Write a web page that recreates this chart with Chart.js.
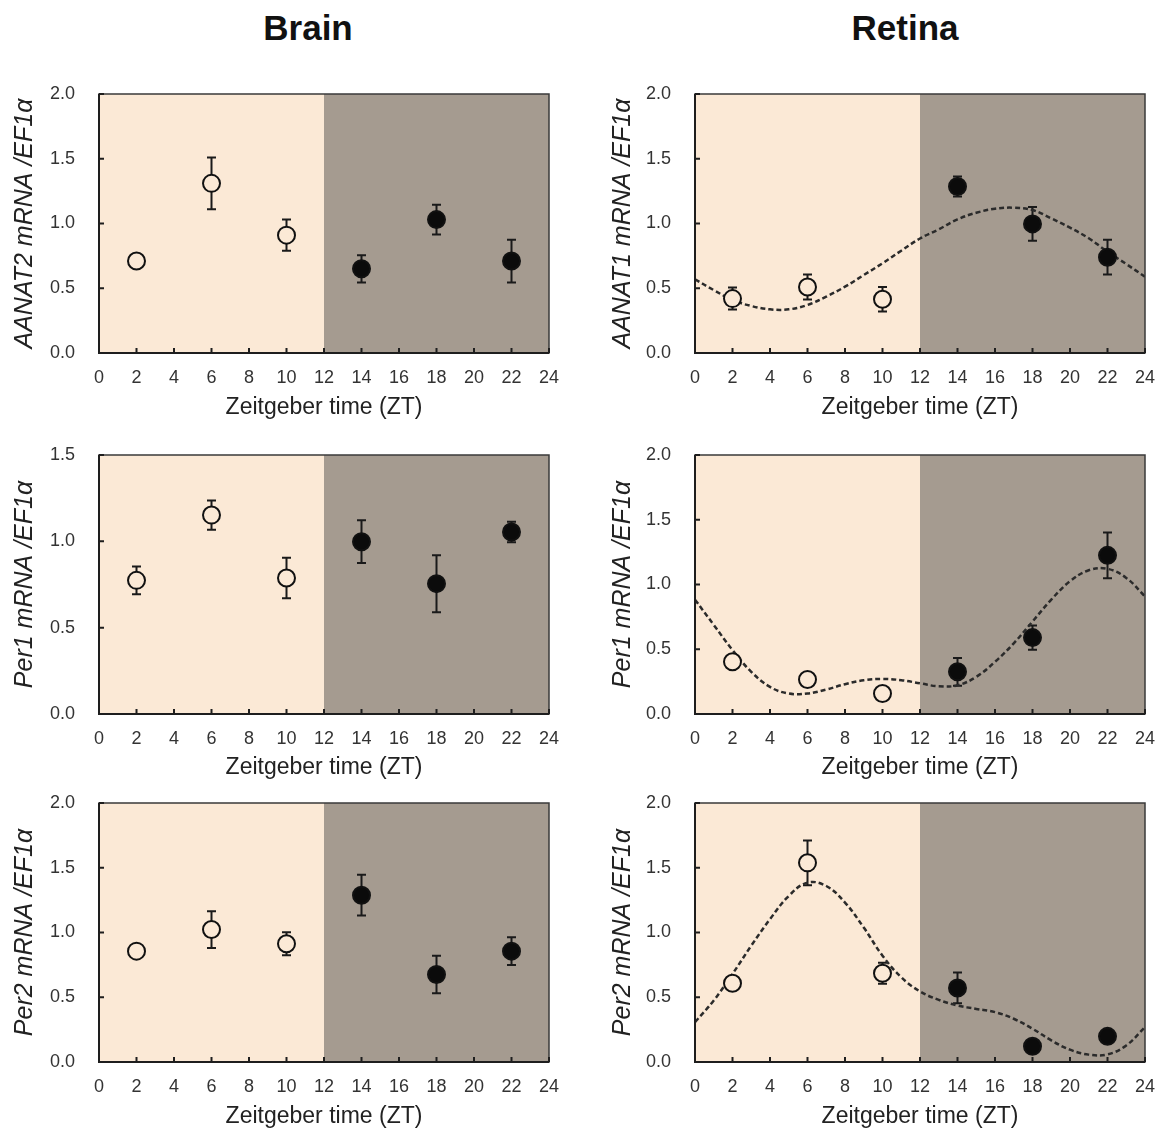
<!DOCTYPE html>
<html>
<head>
<meta charset="utf-8">
<script src="https://cdn.jsdelivr.net/npm/chart.js@4"></script>
<style>
  body { margin: 0; background: #fff; }
  #page { position: relative; width: 1163px; height: 1136px; overflow: hidden; }
  canvas { position: absolute; }
  .head { position: absolute; top: 8px; width: 300px; text-align: center;
          font: bold 35px 'Liberation Sans', Arial, sans-serif; color: #111; }
</style>
</head>
<body>
<div id="page">
  <div class="head" style="left:158px">Brain</div>
  <div class="head" style="left:755px">Retina</div>
  <canvas id="c1" width="575" height="345" style="left:0;top:80px"></canvas>
  <canvas id="c2" width="573" height="345" style="left:590px;top:80px"></canvas>
  <canvas id="c3" width="575" height="345" style="left:0;top:440px"></canvas>
  <canvas id="c4" width="573" height="345" style="left:590px;top:440px"></canvas>
  <canvas id="c5" width="575" height="350" style="left:0;top:786px"></canvas>
  <canvas id="c6" width="573" height="350" style="left:590px;top:786px"></canvas>
</div>
<script>
// sampling times (ZT)
const zt = [2, 6, 10, 14, 18, 22];
const nightStart = 12;

// brain
const brainAanat2 = [0.71, 1.31, 0.91, 0.65, 1.03, 0.71];
const brainAanat2Err = [0.03, 0.20, 0.12, 0.105, 0.115, 0.165];
const brainPer1 = [0.774, 1.152, 0.788, 0.998, 0.755, 1.054];
const brainPer1Err = [0.08, 0.085, 0.117, 0.124, 0.165, 0.06];
const brainPer2 = [0.856, 1.023, 0.913, 1.288, 0.676, 0.856];
const brainPer2Err = [0.03, 0.142, 0.089, 0.157, 0.145, 0.107];

// retina
const retinaAanat1 = [0.42, 0.51, 0.415, 1.285, 0.997, 0.74];
const retinaAanat1Err = [0.085, 0.097, 0.095, 0.077, 0.13, 0.134];
const retinaPer1 = [0.403, 0.266, 0.158, 0.326, 0.59, 1.225];
const retinaPer1Err = [0.02, 0.02, 0.02, 0.107, 0.094, 0.176];
const retinaPer2 = [0.608, 1.538, 0.685, 0.572, 0.121, 0.198];
const retinaPer2Err = [0.02, 0.173, 0.081, 0.119, 0.02, 0.02];

// fitted curves, ZT 0..24 hourly
const fitHours = [0, 1, 2, 3, 4, 5, 6, 7, 8, 9, 10, 11, 12, 13, 14, 15, 16, 17, 18, 19, 20, 21, 22, 23, 24];
const retinaAanat1Fit = [0.569, 0.486, 0.409, 0.363, 0.337, 0.337, 0.371, 0.435, 0.512, 0.602, 0.693, 0.79, 0.884,
  0.955, 1.032, 1.083, 1.114, 1.122, 1.104, 1.04, 0.968, 0.886, 0.782, 0.687, 0.589];
const retinaPer1Fit = [0.883, 0.688, 0.494, 0.326, 0.209, 0.158, 0.158, 0.189, 0.23, 0.261, 0.271, 0.261, 0.237,
  0.214, 0.222, 0.287, 0.403, 0.546, 0.714, 0.883, 1.025, 1.11, 1.121, 1.051, 0.908];
const retinaPer2Fit = [0.308, 0.475, 0.68, 0.898, 1.103, 1.282, 1.385, 1.359, 1.231, 1.038, 0.821, 0.654, 0.545,
  0.48, 0.436, 0.41, 0.385, 0.334, 0.257, 0.167, 0.095, 0.057, 0.059, 0.128, 0.269];

const FONT = "'Liberation Sans', Arial, sans-serif";
const dayColor = '#fbe9d6';
const nightColor = '#a59b90';

// shaded day/night, error bars, frame and inward ticks
const panelDecor = {
  id: 'panelDecor',
  beforeDatasetsDraw(chart, args, opts) {
    const { ctx, chartArea: a, scales: { x, y } } = chart;
    const xm = x.getPixelForValue(nightStart);
    ctx.save();
    ctx.fillStyle = dayColor;
    ctx.fillRect(a.left, a.top, xm - a.left, a.bottom - a.top);
    ctx.fillStyle = nightColor;
    ctx.fillRect(xm, a.top, a.right - xm, a.bottom - a.top);

    ctx.strokeStyle = '#1a1a1a';
    ctx.lineWidth = 2;
    opts.values.forEach((v, i) => {
      const px = x.getPixelForValue(zt[i]);
      const top = y.getPixelForValue(v + opts.errors[i]);
      const bot = y.getPixelForValue(v - opts.errors[i]);
      ctx.beginPath();
      ctx.moveTo(px, top); ctx.lineTo(px, bot);
      ctx.moveTo(px - 4.5, top); ctx.lineTo(px + 4.5, top);
      ctx.moveTo(px - 4.5, bot); ctx.lineTo(px + 4.5, bot);
      ctx.stroke();
    });
    ctx.restore();
  },
  afterDatasetsDraw(chart) {
    const { ctx, chartArea: a, scales: { x, y } } = chart;
    ctx.save();
    ctx.strokeStyle = '#3a3a3a';
    ctx.lineWidth = 1.5;
    ctx.strokeRect(a.left, a.top, a.right - a.left, a.bottom - a.top);
    ctx.strokeStyle = '#1e1e1e';
    ctx.lineWidth = 2;
    ctx.beginPath();
    ctx.moveTo(a.left, a.top); ctx.lineTo(a.left, a.bottom); ctx.lineTo(a.right, a.bottom);
    x.ticks.forEach(t => {
      const px = x.getPixelForValue(t.value);
      ctx.moveTo(px, a.bottom); ctx.lineTo(px, a.bottom - 5);
    });
    y.ticks.forEach(t => {
      const py = y.getPixelForValue(t.value);
      ctx.moveTo(a.left, py); ctx.lineTo(a.left + 5, py);
    });
    ctx.stroke();
    ctx.restore();
  }
};

function makePanel(id, p) {
  const datasets = [{
    type: 'scatter',
    order: 0,
    data: zt.map((t, i) => ({ x: t, y: p.values[i] })),
    pointRadius: 8.5,
    pointBorderWidth: 2,
    pointBorderColor: '#111',
    pointBackgroundColor: zt.map(t => t < nightStart ? dayColor : '#0b0b0b'),
    showLine: false
  }];
  if (p.fit) {
    datasets.push({
      type: 'line',
      order: 1,
      data: fitHours.map((t, i) => ({ x: t, y: p.fit[i] })),
      borderColor: '#2b2b2b',
      borderWidth: 2.5,
      borderDash: [5, 3],
      pointRadius: 0,
      tension: 0.4,
      fill: false
    });
  }
  new Chart(document.getElementById(id), {
    type: 'scatter',
    data: { datasets },
    options: {
      responsive: false,
      animation: false,
      layout: { padding: { top: p.padTop, right: p.padRight, left: 0, bottom: 0 } },
      plugins: {
        legend: { display: false },
        tooltip: { enabled: false },
        panelDecor: { values: p.values, errors: p.errors }
      },
      scales: {
        x: {
          type: 'linear', min: 0, max: 24,
          afterFit: s => { s.height = p.xHeight; s.paddingLeft = 0; s.paddingRight = 0; },
          grid: { display: false, drawTicks: false },
          border: { display: false },
          ticks: { stepSize: 2, padding: 14, maxRotation: 0, autoSkip: false, color: '#333',
                   font: { family: FONT, size: 18 } },
          title: { display: true, text: 'Zeitgeber time (ZT)', color: '#222',
                   font: { family: FONT, size: 23 }, padding: { top: 0, bottom: p.xTitlePad } }
        },
        y: {
          min: 0, max: p.yMax,
          afterFit: s => { s.width = p.yWidth; s.paddingTop = 0; s.paddingBottom = 0; },
          grid: { display: false, drawTicks: false },
          border: { display: false },
          ticks: { stepSize: 0.5, padding: 24, color: '#333', font: { family: FONT, size: 18 },
                   callback: v => v.toFixed(1) },
          title: { display: true, text: p.yTitle, color: '#222',
                   font: { family: FONT, size: 25, style: 'italic' }, padding: { top: p.yTitlePad, bottom: 0 } }
        }
      }
    },
    plugins: [panelDecor]
  });
}

const leftCol = { yWidth: 99, padRight: 26, yTitlePad: 10 };
const rightCol = { yWidth: 105, padRight: 18, yTitlePad: 18 };
const row1 = { padTop: 14, xHeight: 72, xTitlePad: 4 };
const row2 = { padTop: 15, xHeight: 71, xTitlePad: 4 };
const row3 = { padTop: 17, xHeight: 74, xTitlePad: 6 };

makePanel('c1', { ...leftCol, ...row1, yMax: 2, yTitle: 'AANAT2 mRNA /EF1α',
  values: brainAanat2, errors: brainAanat2Err });
makePanel('c2', { ...rightCol, ...row1, yMax: 2, yTitle: 'AANAT1 mRNA /EF1α',
  values: retinaAanat1, errors: retinaAanat1Err, fit: retinaAanat1Fit });
makePanel('c3', { ...leftCol, ...row2, yMax: 1.5, yTitle: 'Per1 mRNA /EF1α',
  values: brainPer1, errors: brainPer1Err });
makePanel('c4', { ...rightCol, ...row2, yMax: 2, yTitle: 'Per1 mRNA /EF1α',
  values: retinaPer1, errors: retinaPer1Err, fit: retinaPer1Fit });
makePanel('c5', { ...leftCol, ...row3, yMax: 2, yTitle: 'Per2 mRNA /EF1α',
  values: brainPer2, errors: brainPer2Err });
makePanel('c6', { ...rightCol, ...row3, yMax: 2, yTitle: 'Per2 mRNA /EF1α',
  values: retinaPer2, errors: retinaPer2Err, fit: retinaPer2Fit });
</script>
</body>
</html>
